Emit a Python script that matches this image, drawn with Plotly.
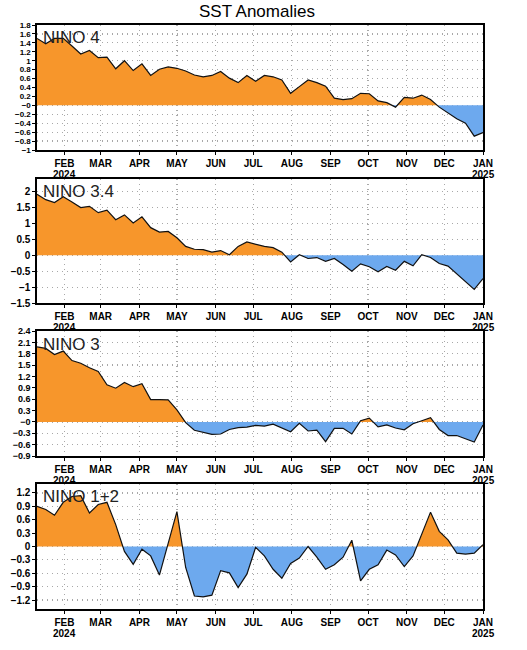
import numpy as np
import pandas as pd
import plotly.graph_objects as go

# ---------------- data (weekly, Wednesdays) ----------------
weeks = pd.date_range("2024-01-10", periods=52, freq="7D")

nino4 = [1.50, 1.38, 1.50, 1.50, 1.33, 1.15, 1.23, 1.07, 1.08, 0.82,
         1.00, 0.78, 0.93, 0.67, 0.81, 0.86, 0.83, 0.77, 0.68, 0.64,
         0.67, 0.76, 0.61, 0.51, 0.67, 0.54, 0.67, 0.64, 0.57, 0.27,
         0.42, 0.57, 0.51, 0.43, 0.16, 0.13, 0.15, 0.27, 0.26, 0.10,
         0.06, -0.04, 0.18, 0.16, 0.23, 0.13, -0.04, -0.17, -0.30, -0.40,
         -0.69, -0.61]

nino34 = [1.92, 1.75, 1.66, 1.84, 1.68, 1.50, 1.54, 1.34, 1.42, 1.12,
          1.27, 1.02, 1.21, 0.87, 0.73, 0.75, 0.55, 0.28, 0.19, 0.18,
          0.10, 0.15, 0.02, 0.28, 0.42, 0.35, 0.28, 0.24, 0.10, -0.21,
          0.02, -0.10, -0.07, -0.19, -0.10, -0.29, -0.50, -0.27, -0.36, -0.52,
          -0.35, -0.47, -0.19, -0.33, 0.02, -0.07, -0.26, -0.34, -0.58, -0.82,
          -1.07, -0.73]

nino3 = [1.98, 1.94, 1.78, 1.87, 1.62, 1.55, 1.43, 1.33, 0.98, 0.89,
         1.04, 0.93, 1.01, 0.59, 0.59, 0.58, 0.32, -0.02, -0.22, -0.27,
         -0.33, -0.32, -0.20, -0.15, -0.14, -0.09, -0.11, -0.06, -0.17, -0.26,
         -0.04, -0.24, -0.22, -0.52, -0.17, -0.17, -0.32, 0.03, 0.10, -0.13,
         -0.08, -0.16, -0.21, -0.05, 0.03, 0.11, -0.20, -0.36, -0.36, -0.44,
         -0.53, -0.08]

nino12 = [0.90, 0.83, 0.70, 0.99, 1.12, 1.14, 0.75, 0.94, 0.99, 0.49,
          -0.11, -0.40, -0.06, -0.21, -0.64, 0.07, 0.78, -0.47, -1.11, -1.13,
          -1.09, -0.54, -0.59, -0.92, -0.62, -0.02, -0.21, -0.51, -0.71, -0.38,
          -0.26, 0.00, -0.24, -0.51, -0.41, -0.24, 0.14, -0.77, -0.51, -0.41,
          -0.08, -0.19, -0.45, -0.21, 0.27, 0.77, 0.34, 0.15, -0.15, -0.17,
          -0.15, 0.04]

month_ticks = pd.date_range("2024-02-01", "2025-01-01", freq="MS")
month_labels = ["FEB", "MAR", "APR", "MAY", "JUN", "JUL", "AUG",
                "SEP", "OCT", "NOV", "DEC", "JAN"]
year_labels = [("2024-02-01", "2024"), ("2025-01-01", "2025")]

panel_names = ["NINO 4", "NINO 3.4", "NINO 3", "NINO 1+2"]
panel_series = [nino4, nino34, nino3, nino12]
panel_ranges = [(-1.0, 1.8), (-1.5, 2.4), (-0.9, 2.4), (-1.4, 1.4)]
panel_ticks = [np.round(np.arange(-1.0, 1.81, 0.2), 2),
               np.round(np.arange(-1.5, 2.01, 0.5), 2),
               np.round(np.arange(-0.9, 2.41, 0.3), 2),
               np.round(np.arange(-1.2, 1.21, 0.3), 2)]
ytick_sizes = [8, 10, 9, 10]

# ---------------- layout geometry (page px) ----------------
W, H = 527, 650
PL, PR = 37, 483
panel_px = [(25, 150), (179, 303), (331, 456), (484, 609)]  # top, bottom

ORANGE = "#F7962B"
BLUE = "#6DA9EE"
GRID = "#a8a8a8"
FONT = "Liberation Sans"


def fmt(v):
    s = f"{v:g}"
    return s.replace("-", "\u2212")


def with_crossings(x, y):
    """Insert zero-crossing vertices so the fill changes colour at y = 0."""
    xs = pd.to_datetime(x).astype("int64").to_numpy()
    ys = np.asarray(y, dtype=float)
    ox, oy = [xs[0]], [ys[0]]
    for i in range(len(ys) - 1):
        y0, y1 = ys[i], ys[i + 1]
        if y0 * y1 < 0:
            f = y0 / (y0 - y1)
            ox.append(xs[i] + (xs[i + 1] - xs[i]) * f)
            oy.append(0.0)
        ox.append(xs[i + 1])
        oy.append(y1)
    return pd.to_datetime(np.array(ox, dtype="int64")), np.array(oy)


fig = go.Figure()
layout = dict(
    width=W, height=H,
    margin=dict(l=PL, r=W - PR, t=0, b=0),
    paper_bgcolor="white", plot_bgcolor="white",
    showlegend=False,
    font=dict(family=FONT, color="black"),
)
annotations = []

for k in range(4):
    n = k + 1
    xa = "x" if n == 1 else f"x{n}"
    ya = "y" if n == 1 else f"y{n}"
    vals = panel_series[k]
    dx, dy = with_crossings(weeks, vals)
    pos = np.maximum(dy, 0.0)
    neg = np.minimum(dy, 0.0)
    fig.add_trace(go.Scatter(x=dx, y=pos, mode="lines", fill="tozeroy",
                             fillcolor=ORANGE, line=dict(width=0, color=ORANGE),
                             xaxis=xa, yaxis=ya, hoverinfo="skip"))
    fig.add_trace(go.Scatter(x=dx, y=neg, mode="lines", fill="tozeroy",
                             fillcolor=BLUE, line=dict(width=0, color=BLUE),
                             xaxis=xa, yaxis=ya, hoverinfo="skip"))
    fig.add_trace(go.Scatter(x=weeks, y=vals, mode="lines",
                             line=dict(width=1.2, color="#111111"),
                             xaxis=xa, yaxis=ya, hoverinfo="skip"))

    top, bot = panel_px[k]
    xkey = "xaxis" if n == 1 else f"xaxis{n}"
    ykey = "yaxis" if n == 1 else f"yaxis{n}"
    layout[xkey] = dict(
        domain=[0, 1], anchor=ya,
        range=[weeks[0], pd.Timestamp("2025-01-01")],
        tickmode="array", tickvals=month_ticks, ticktext=month_labels,
        tickfont=dict(size=10, family=FONT, weight=700),
        ticks="outside", ticklen=3, tickcolor="black",
        showgrid=True, gridcolor=GRID, griddash="1px,4px", gridwidth=1.2,
        showline=True, linecolor="black", linewidth=1.6, mirror=True,
        zeroline=False, automargin=False, fixedrange=True,
    )
    tv = panel_ticks[k]
    layout[ykey] = dict(
        domain=[1 - bot / H, 1 - top / H], anchor=xa,
        range=list(panel_ranges[k]),
        tickmode="array", tickvals=list(tv), ticktext=[fmt(v) for v in tv],
        tickfont=dict(size=ytick_sizes[k], family=FONT, weight=700),
        ticks="outside", ticklen=3, tickcolor="black",
        showgrid=True, gridcolor=GRID, griddash="1px,4px", gridwidth=1.2,
        showline=True, linecolor="black", linewidth=1.6, mirror=True,
        zeroline=False, automargin=False, fixedrange=True,
    )
    annotations.append(dict(
        text=panel_names[k], xref=f"{xa} domain", yref=f"{ya} domain",
        x=0.008, y=1 - 13 / (bot - top), xanchor="left", yanchor="middle",
        showarrow=False, font=dict(size=17, family=FONT, color="#222222"),
    ))
    for d, yr in year_labels:
        annotations.append(dict(
            text=yr, xref=xa, yref=f"{ya} domain",
            x=pd.Timestamp(d), y=0, yshift=-17, xanchor="center", yanchor="top",
            showarrow=False, font=dict(size=10, family=FONT, weight=700),
        ))

annotations.append(dict(
    text="SST Anomalies", xref="paper", yref="paper",
    x=(PL + PR) / 2 / W, y=1 - 11 / H, xanchor="center", yanchor="middle",
    showarrow=False, font=dict(size=17, family=FONT, color="black"),
))
layout["annotations"] = annotations
layout["hovermode"] = False
fig.update_layout(**layout)

# remove the default 8px page margin so the figure fills the window exactly
fig.write_html("out.html",
               config={"displayModeBar": False, "staticPlot": True},
               post_script="document.body.style.margin='0px';")
